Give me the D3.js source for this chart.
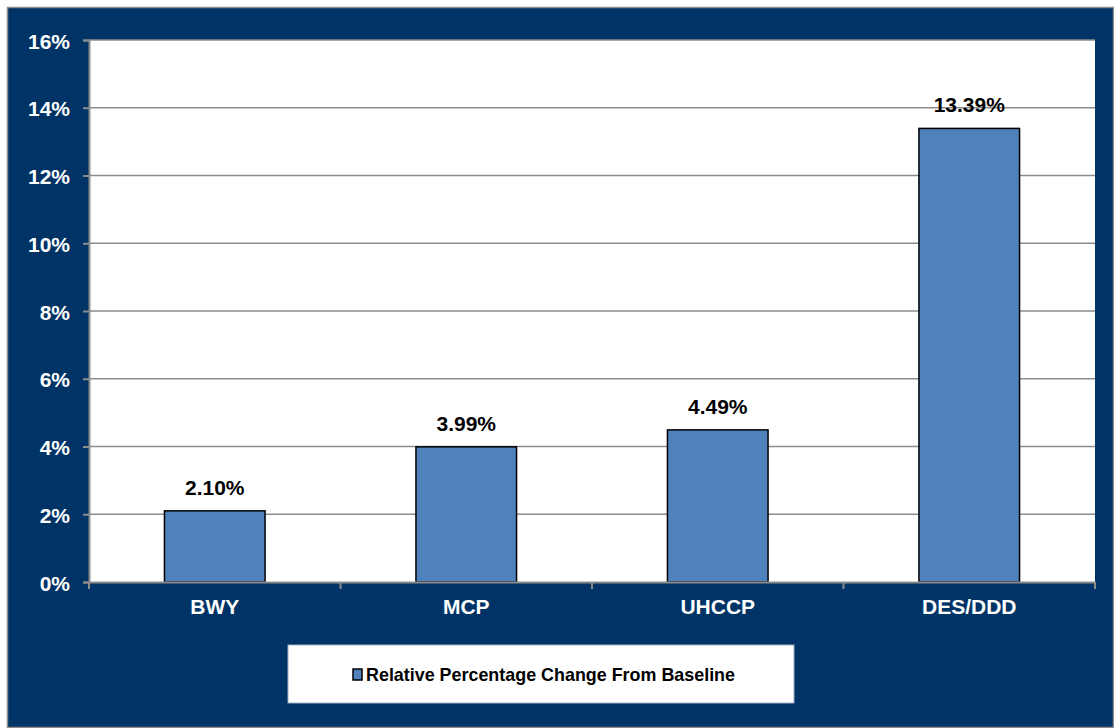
<!DOCTYPE html>
<html>
<head>
<meta charset="utf-8">
<script src="https://cdn.jsdelivr.net/npm/d3@7"></script>
<style>
  html, body { margin: 0; padding: 0; background: #fff; }
  svg { display: block; font-family: Arial, "Liberation Sans", sans-serif; }
</style>
</head>
<body>
<svg id="chart" width="1114" height="728"></svg>
<script>
// data
const categories = ['BWY', 'MCP', 'UHCCP', 'DES/DDD'];
const values = [2.10, 3.99, 4.49, 13.39];
const yTicks = [0, 2, 4, 6, 8, 10, 12, 14, 16];
const seriesName = 'Relative Percentage Change From Baseline';

const W = 1114, H = 728;
const NAVY = '#003366', BAR = '#4f81bd', GRID = '#8c8c8c';
const FONT = 'Arial, "Liberation Sans", sans-serif';
const plot = { left: 89, top: 40, right: 1095, bottom: 582 };

const svg = d3.select('#chart');

// achtergrond + rand
svg.append('rect').attr('x', 0).attr('y', 0).attr('width', W).attr('height', H).attr('fill', '#fff');
svg.append('rect').attr('x', 7.5).attr('y', 7.5).attr('width', W - 8).attr('height', H - 8)
  .attr('fill', NAVY).attr('stroke', GRID).attr('stroke-width', 1.5);

// plotvlak
svg.append('rect').attr('x', plot.left).attr('y', plot.top)
  .attr('width', plot.right - plot.left).attr('height', plot.bottom - plot.top).attr('fill', '#fff');

const x = d3.scaleBand().domain(categories).range([plot.left, plot.right]);
const y = d3.scaleLinear().domain([0, 16]).range([plot.bottom, plot.top]);

// rasterlijnen
svg.append('g').selectAll('line').data(yTicks.filter(t => t > 0)).join('line')
  .attr('x1', plot.left).attr('x2', plot.right)
  .attr('y1', d => y(d)).attr('y2', d => y(d))
  .attr('stroke', GRID).attr('stroke-width', 1.5);

// y-as
const yAxis = svg.append('g').attr('transform', `translate(${plot.left},0)`)
  .call(d3.axisLeft(y).tickValues(yTicks).tickSize(6).tickPadding(13).tickFormat(d => d + '%'));
yAxis.attr('font-size', null).attr('font-family', null);
yAxis.select('.domain').attr('stroke', GRID).attr('stroke-width', 2);
yAxis.selectAll('.tick line').attr('stroke', GRID).attr('stroke-width', 2);
yAxis.selectAll('.tick text')
  .attr('fill', '#fff').style('font-size', '21px').style('font-weight', 'bold').style('font-family', FONT)
  .attr('dy', null).attr('y', 8);

// staven
svg.append('g').selectAll('rect').data(values).join('rect')
  .attr('x', (d, i) => x(categories[i]) + x.bandwidth() * 0.3)
  .attr('width', x.bandwidth() * 0.4)
  .attr('y', d => y(d))
  .attr('height', d => y(0) - y(d))
  .attr('fill', BAR).attr('stroke', '#000').attr('stroke-width', 1.5);

// waardelabels
svg.append('g').selectAll('text').data(values).join('text')
  .attr('x', (d, i) => x(categories[i]) + x.bandwidth() / 2)
  .attr('y', d => y(d) - 16)
  .attr('text-anchor', 'middle')
  .style('font-size', '21px').style('font-weight', 'bold').style('font-family', FONT)
  .attr('fill', '#000')
  .text(d => d.toFixed(2) + '%');

// x-as
const xAxis = svg.append('g').attr('transform', `translate(0,${plot.bottom})`)
  .call(d3.axisBottom(x).tickSize(0));
xAxis.attr('font-size', null).attr('font-family', null);
xAxis.select('.domain').attr('stroke', GRID).attr('stroke-width', 2);
xAxis.selectAll('.tick text')
  .attr('fill', '#fff').style('font-size', '21px').style('font-weight', 'bold').style('font-family', FONT)
  .attr('dy', null).attr('y', 32);
// scheidingsstreepjes tussen categorieën
const bounds = categories.map(c => x(c)).concat([plot.right]);
svg.append('g').selectAll('line').data(bounds).join('line')
  .attr('x1', d => d).attr('x2', d => d)
  .attr('y1', plot.bottom).attr('y2', plot.bottom + 7)
  .attr('stroke', GRID).attr('stroke-width', 2);

// legenda
const lg = svg.append('g');
lg.append('rect').attr('x', 288).attr('y', 645).attr('width', 506).attr('height', 58)
  .attr('fill', '#fff').attr('stroke', '#9fb0c8').attr('stroke-width', 1);
lg.append('rect').attr('x', 353).attr('y', 669).attr('width', 9).attr('height', 11)
  .attr('fill', BAR).attr('stroke', '#000').attr('stroke-width', 1.5);
lg.append('text').attr('x', 366).attr('y', 681)
  .style('font-size', '19px').style('font-weight', 'bold').style('font-family', FONT)
  .attr('fill', '#000')
  .attr('textLength', 369).attr('lengthAdjust', 'spacingAndGlyphs')
  .text(seriesName);
</script>
</body>
</html>
